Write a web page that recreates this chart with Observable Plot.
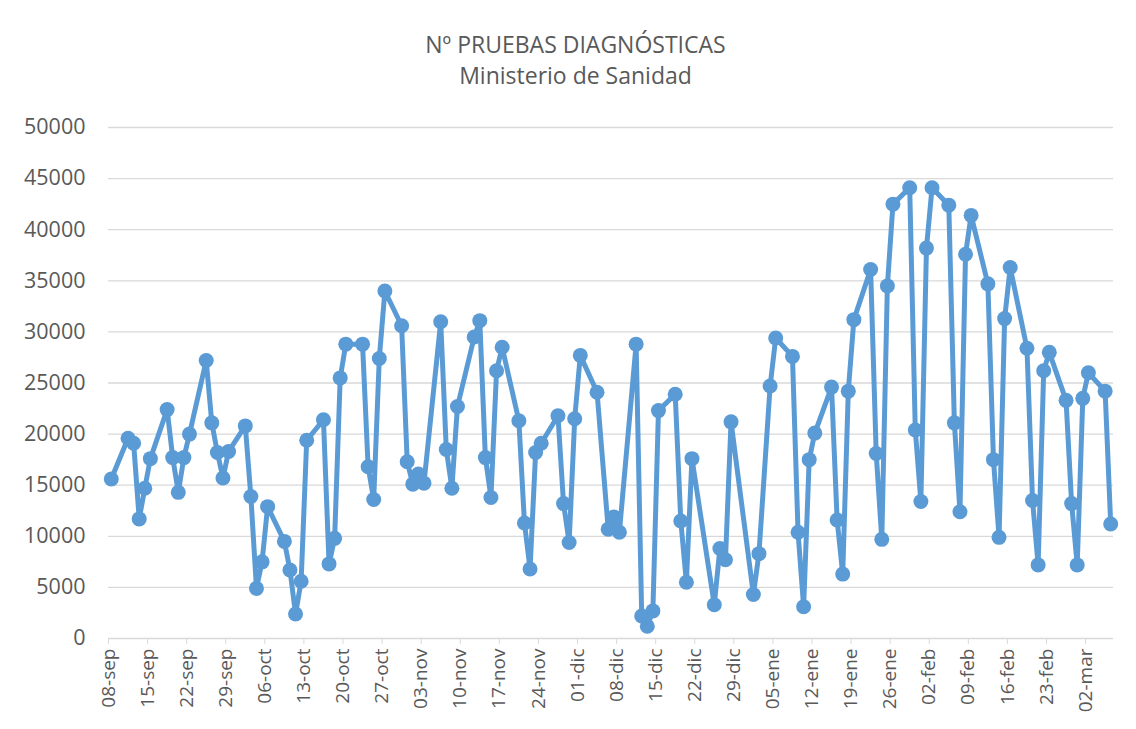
<!DOCTYPE html>
<html><head><meta charset="utf-8">
<script src="https://cdn.jsdelivr.net/npm/d3@7"></script>
<script src="https://cdn.jsdelivr.net/npm/@observablehq/plot@0.6"></script>
<style>
body{margin:0;background:#fff;}
#wrap{position:relative;width:1136px;height:729px;overflow:hidden;font-family:"Open Sans",sans-serif;}
#title{position:absolute;left:0;top:29px;width:1151px;text-align:center;color:#595959;font-size:23px;line-height:31px;}
#chart{position:absolute;left:0;top:95px;}
</style></head><body>
<div id="wrap"><div id="title">Nº PRUEBAS DIAGNÓSTICAS<br>Ministerio de Sanidad</div><div id="chart"></div></div>
<script>
const dates = ["2020-09-08","2020-09-11","2020-09-12","2020-09-13","2020-09-14","2020-09-15",
"2020-09-18","2020-09-19","2020-09-20","2020-09-21","2020-09-22",
"2020-09-25","2020-09-26","2020-09-27","2020-09-28","2020-09-29",
"2020-10-02","2020-10-03","2020-10-04","2020-10-05","2020-10-06",
"2020-10-09","2020-10-10","2020-10-11","2020-10-12","2020-10-13",
"2020-10-16","2020-10-17","2020-10-18","2020-10-19","2020-10-20",
"2020-10-23","2020-10-24","2020-10-25","2020-10-26","2020-10-27",
"2020-10-30","2020-10-31","2020-11-01","2020-11-02","2020-11-03",
"2020-11-06","2020-11-07","2020-11-08","2020-11-09",
"2020-11-12","2020-11-13","2020-11-14","2020-11-15","2020-11-16","2020-11-17",
"2020-11-20","2020-11-21","2020-11-22","2020-11-23","2020-11-24",
"2020-11-27","2020-11-28","2020-11-29","2020-11-30","2020-12-01",
"2020-12-04","2020-12-06","2020-12-07","2020-12-08",
"2020-12-11","2020-12-12","2020-12-13","2020-12-14","2020-12-15",
"2020-12-18","2020-12-19","2020-12-20","2020-12-21",
"2020-12-25","2020-12-26","2020-12-27","2020-12-28",
"2021-01-01","2021-01-02","2021-01-04","2021-01-05",
"2021-01-08","2021-01-09","2021-01-10","2021-01-11","2021-01-12",
"2021-01-15","2021-01-16","2021-01-17","2021-01-18","2021-01-19",
"2021-01-22","2021-01-23","2021-01-24","2021-01-25","2021-01-26",
"2021-01-29","2021-01-30","2021-01-31","2021-02-01","2021-02-02",
"2021-02-05","2021-02-06","2021-02-07","2021-02-08","2021-02-09",
"2021-02-12","2021-02-13","2021-02-14","2021-02-15","2021-02-16",
"2021-02-19","2021-02-20","2021-02-21","2021-02-22","2021-02-23",
"2021-02-26","2021-02-27","2021-02-28","2021-03-01","2021-03-02",
"2021-03-05","2021-03-06"];
const values = [15600,19600,19100,11700,14700,17600,
22400,17700,14300,17700,20000,
27200,21100,18200,15700,18300,
20800,13900,4900,7500,12900,
9500,6700,2400,5600,19400,
21400,7300,9800,25500,28800,
28800,16800,13600,27400,34000,
30600,17300,15100,16100,15200,
31000,18500,14700,22700,
29500,31100,17700,13800,26200,28500,
21300,11300,6800,18200,19100,
21800,13200,9400,21500,27700,
24100,10700,11900,10400,
28800,2200,1200,2700,22300,
23900,11500,5500,17600,
3300,8800,7700,21200,
4300,8300,24700,29400,
27600,10400,3100,17500,20100,
24600,11600,6300,24200,31200,
36100,18100,9700,34500,42500,
44100,20400,13400,38200,44100,
42400,21100,12400,37600,41400,
34700,17500,9900,31300,36300,
28400,13500,7200,26200,28000,
23300,13200,7200,23500,26000,
24200,11200];
const tickDates = ["2020-09-08","2020-09-15","2020-09-22","2020-09-29","2020-10-06","2020-10-13","2020-10-20","2020-10-27","2020-11-03","2020-11-10","2020-11-17","2020-11-24","2020-12-01","2020-12-08","2020-12-15","2020-12-22","2020-12-29","2021-01-05","2021-01-12","2021-01-19","2021-01-26","2021-02-02","2021-02-09","2021-02-16","2021-02-23","2021-03-02"];
const tickLabels = ["08-sep","15-sep","22-sep","29-sep","06-oct","13-oct","20-oct","27-oct","03-nov","10-nov","17-nov","24-nov","01-dic","08-dic","15-dic","22-dic","29-dic","05-ene","12-ene","19-ene","26-ene","02-feb","09-feb","16-feb","23-feb","02-mar"];
const yTicks = [0,5000,10000,15000,20000,25000,30000,35000,40000,45000,50000];

const parse = d3.utcParse("%Y-%m-%d");
const data = dates.map((d,i)=>({date: d3.utcHour.offset(parse(d),12), value: values[i]}));
const ticks = tickDates.map(parse);
const labelOf = new Map(ticks.map((t,i)=>[+t, tickLabels[i]]));

const plot = Plot.plot({
  width:1136, height:634,
  marginLeft:108, marginRight:23, marginTop:32, marginBottom:91,
  style:{fontFamily:"Open Sans", color:"#595959", background:"transparent", overflow:"visible"},
  x:{type:"utc", domain:[parse("2020-09-08"), parse("2021-03-07")]},
  y:{domain:[0,50000]},
  marks:[
    Plot.gridY(yTicks,{stroke:"#d9d9d9", strokeOpacity:1, strokeWidth:1.3}),
    Plot.axisY(yTicks,{tickSize:0, tickPadding:23, tickFormat:d3.format("d"), fontSize:21.5, label:null}),
    Plot.axisX(ticks,{tickSize:6, tickPadding:4, tickRotate:-90, tickFormat:d=>labelOf.get(+d), stroke:"#d9d9d9", strokeOpacity:1, label:null, fontSize:19}),
    Plot.line(data,{x:"date",y:"value",stroke:"#5b9bd5",strokeWidth:5,strokeLinejoin:"round"}),
    Plot.dot(data,{x:"date",y:"value",r:7.5,fill:"#5b9bd5"})
  ]
});
document.getElementById("chart").appendChild(plot);
</script>
</body></html>
